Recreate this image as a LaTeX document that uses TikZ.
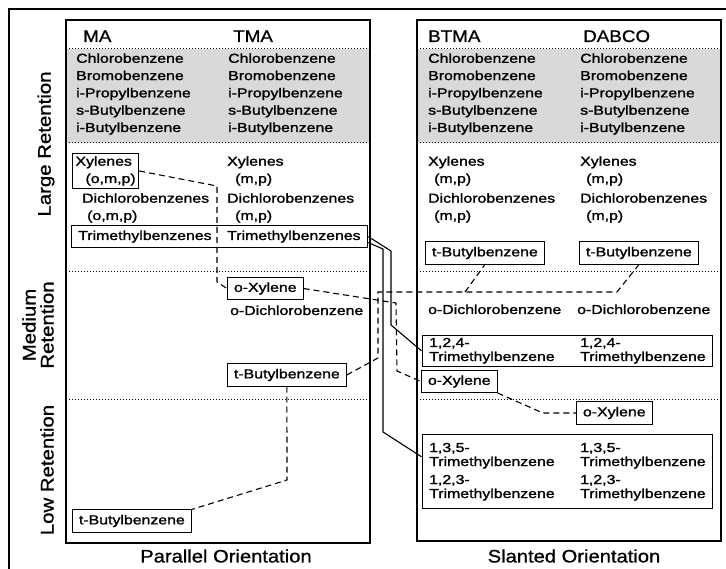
\documentclass[tikz,border=0pt]{standalone}
\usepackage{fontspec}
\setmainfont{Liberation Sans}
\newfontfamily\cmpdfont{Liberation Sans}[FakeStretch=1.22, FakeBold=1.4]
\newfontfamily\headfont{Liberation Sans}[FakeStretch=1.12, FakeBold=0.9]
\usetikzlibrary{fit,calc}

\tikzset{
  cmpd/.style={anchor=base west, inner sep=0pt, align=left, font=\cmpdfont\fontsize{13}{17.3}\selectfont},
  tight/.style={cmpd, font=\cmpdfont\fontsize{13}{14}\selectfont},
  boxed/.style={draw, line width=1pt, anchor=west, inner xsep=6.5pt, inner ysep=5pt, font=\cmpdfont\fontsize{13}{17.3}\selectfont},
  fitbox/.style={draw, line width=1pt, inner xsep=7pt},
  head/.style={anchor=base west, inner sep=0pt, font=\headfont\fontsize{16.8}{20}\selectfont},
  side/.style={rotate=90, align=center, inner sep=0pt, font=\headfont\fontsize{18.2}{18}\selectfont},
  orient/.style={inner sep=0pt, font=\headfont\fontsize{18}{20}\selectfont},
  panel/.style={draw, line width=1.3pt},
  sep/.style={dotted, line width=1pt},
  link/.style={line width=1.1pt, dash pattern=on 6pt off 4pt},
  pipe/.style={line width=1.1pt}
}

\begin{document}
\begin{tikzpicture}[x=1pt, y=-1pt]
  \useasboundingbox (0,0) rectangle (726,569);

  % frame and panels
  \draw[line width=1.3pt] (9,569) -- (9,9) -- (726,9);
  \fill[gray!30] (66,49) rectangle (370,143);
  \fill[gray!30] (417,49) rectangle (721,143);
  \draw[sep] (66,49) -- (370,49) (66,143) -- (370,143);
  \draw[sep] (417,49) -- (721,49) (417,143) -- (721,143);
  \draw[sep] (66,272) -- (370,272) (66,400) -- (370,400);
  \draw[sep] (417,272) -- (721,272) (417,400) -- (721,400);
  \draw[panel] (66,20) rectangle (370,543);
  \draw[panel] (417,20) rectangle (721,541);

  \node[side] (large) at (46,144) {Large Retention};
  \node[side] (medium) at (38,325) {Medium\\Retention};
  \node[side] (low) at (47,470) {Low Retention};

  \node[head] (ma) at (83,42) {MA};
  \node[head] (tma) at (233,42) {TMA};
  \node[head] (btma) at (428,42) {BTMA};
  \node[head] (dabco) at (583,42) {DABCO};

  % large retention
  \node[cmpd] (bigMA) at (76,132) {Chlorobenzene\\Bromobenzene\\i-Propylbenzene\\s-Butylbenzene\\i-Butylbenzene};
  \node[cmpd] (bigTMA) at (228,132) {Chlorobenzene\\Bromobenzene\\i-Propylbenzene\\s-Butylbenzene\\i-Butylbenzene};
  \node[cmpd] (bigBTMA) at (428,132) {Chlorobenzene\\Bromobenzene\\i-Propylbenzene\\s-Butylbenzene\\i-Butylbenzene};
  \node[cmpd] (bigDABCO) at (580,132) {Chlorobenzene\\Bromobenzene\\i-Propylbenzene\\s-Butylbenzene\\i-Butylbenzene};

  \node[cmpd, draw, line width=1pt, inner xsep=3pt, inner ysep=3pt] (xylMA) at (72,183) {Xylenes\\\hspace*{10pt}(o,m,p)};
  \node[cmpd] (dcbMA) at (82,220) {Dichlorobenzenes\\\hspace*{5pt}(o,m,p)};
  \node[cmpd] (tmbMA) at (78,240) {Trimethylbenzenes};
  \node[cmpd] (xylTMA) at (227,183) {Xylenes\\\hspace*{8pt}(m,p)};
  \node[cmpd] (dcbTMA) at (227,220) {Dichlorobenzenes\\\hspace*{8pt}(m,p)};
  \node[cmpd] (tmbTMA) at (227,240) {Trimethylbenzenes};
  \node[fitbox, inner ysep=5pt, fit=(tmbMA)(tmbTMA)] (tmbBox) {};

  \node[cmpd] (xylBTMA) at (428,183) {Xylenes\\\hspace*{6pt}(m,p)};
  \node[cmpd] (dcbBTMA) at (428,220) {Dichlorobenzenes\\\hspace*{6pt}(m,p)};
  \node[cmpd] (xylDABCO) at (580,183) {Xylenes\\\hspace*{6pt}(m,p)};
  \node[cmpd] (dcbDABCO) at (580,220) {Dichlorobenzenes\\\hspace*{6pt}(m,p)};
  \node[boxed] (tbB) at (425,253) {t-Butylbenzene};
  \node[boxed] (tbD) at (579,253) {t-Butylbenzene};

  % medium retention
  \node[boxed] (oxT) at (227,288.5) {o-Xylene};
  \node[cmpd] (odcbTMA) at (230,315) {o-Dichlorobenzene};
  \node[boxed] (tbT) at (227,375) {t-Butylbenzene};
  \node[cmpd] (odcbBTMA) at (428,314) {o-Dichlorobenzene};
  \node[cmpd] (odcbDABCO) at (577,314) {o-Dichlorobenzene};
  \node[tight] (t124B) at (429,361) {1,2,4-\\Trimethylbenzene};
  \node[tight] (t124D) at (580,361) {1,2,4-\\Trimethylbenzene};
  \node[fitbox, inner ysep=2.5pt, fit=(t124B)(t124D)] (t124) {};
  \node[boxed] (oxB) at (421,381.5) {o-Xylene};

  % low retention
  \node[boxed] (oxD) at (576,413) {o-Xylene};
  \node[tight] (t135B) at (429,466) {1,3,5-\\Trimethylbenzene};
  \node[tight] (t123B) at (429,498) {1,2,3-\\Trimethylbenzene};
  \node[tight] (t135D) at (580,466) {1,3,5-\\Trimethylbenzene};
  \node[tight] (t123D) at (580,498) {1,2,3-\\Trimethylbenzene};
  \node[fitbox, inner ysep=8pt, fit=(t135B)(t123B)(t135D)(t123D)] (t135) {};
  \node[boxed] (tbM) at (72,521) {t-Butylbenzene};

  \node[orient] (par) at (226,556) {Parallel Orientation};
  \node[orient] (sla) at (574,556) {Slanted Orientation};

  % connectors
  \coordinate (fork) at (465,292);
  \draw[link] (xylMA.east) -- (217,186) -- (217,282) -- (oxT.west);
  \draw[link] (oxT.east) -- (396,303) -- (397,371) -- (oxB.west);
  \draw[link] (tbT.east) -- (378,358) -- (378,292) -- (617,292) -- (tbD.south);
  \draw[link] (fork) -- (tbB.south);
  \draw[link] (tbT.south) -- (287,480) -- (tbM.north east);
  \draw[link] (oxB.south east) -- (543,413) -- (oxD.west);
  \draw[pipe] (tmbBox.east) -- (391,251) -- (391,325) -- (t124.west);
  \draw[pipe] ([yshift=-6pt]tmbBox.east) -- (383,249) -- (383,432) -- ($(t135.north west)!0.3!(t135.south west)$);
\end{tikzpicture}
\end{document}
